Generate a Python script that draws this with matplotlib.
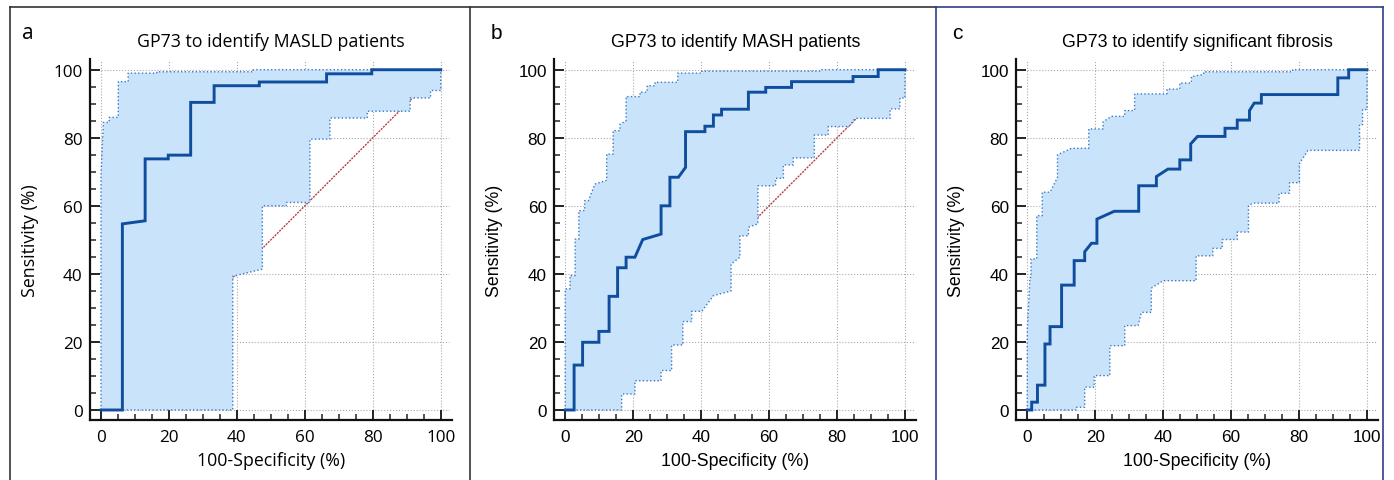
import matplotlib.pyplot as plt
from matplotlib.lines import Line2D
from matplotlib.ticker import MultipleLocator

W, H = 1394, 481

# Панель a: GP73 -> MASLD (ROC-кривая и границы 95% ДИ)
a_fpr = [0, 6.3, 6.3, 13.0, 13.0, 19.8, 19.8, 26.4, 26.4, 33.3, 33.3, 46.6, 46.6,
         66.4, 66.4, 79.7, 79.7, 100]
a_tpr = [0, 0, 54.7, 55.6, 73.8, 73.8, 74.9, 74.9, 90.4, 90.4, 95.3, 95.3, 96.4,
         96.4, 98.8, 98.8, 100, 100]
a_up_x = [0, 0, 0.7, 2.4, 2.4, 5.1, 5.1, 8.0, 8.0, 16.4, 16.4, 44.8, 44.8, 100]
a_up_y = [0, 68.9, 84.5, 84.5, 86.0, 86.0, 96.5, 96.5, 99.0, 99.0, 99.4, 99.4, 100, 100]
a_lo_x = [0, 38.8, 38.8, 47.5, 47.5, 54.5, 54.5, 61.5, 61.5, 67.4, 67.4, 78.4, 78.4,
          91.0, 91.0, 97.0, 97.0, 100, 100]
a_lo_y = [0, 0, 39.3, 41.4, 60.0, 60.0, 61.0, 61.0, 79.6, 79.6, 85.8, 85.8, 87.8,
          87.8, 91.7, 91.7, 93.9, 93.9, 100]

# Панель b: GP73 -> MASH
b_fpr = [0, 2.6, 2.6, 5.1, 5.1, 9.9, 9.9, 12.9, 12.9, 15.4, 15.4, 17.9, 17.9, 20.5,
         22.8, 28.2, 28.2, 30.8, 30.8, 33.3, 35.4, 35.4, 41.1, 41.1, 43.6, 43.6, 46.0,
         46.0, 53.9, 53.9, 59.0, 59.0, 66.6, 66.6, 84.7, 84.7, 92.1, 92.1, 100]
b_tpr = [0, 0, 13.2, 13.2, 19.9, 19.9, 23.1, 23.1, 33.4, 33.4, 41.8, 41.8, 44.9, 44.9,
         50.1, 51.7, 60.0, 60.0, 68.4, 68.4, 71.3, 81.8, 81.8, 83.4, 83.4, 86.7, 86.7,
         88.4, 88.4, 93.4, 93.4, 94.8, 94.8, 96.5, 96.5, 98.0, 98.0, 100, 100]
b_up_x = [0, 0, 1.4, 1.4, 2.9, 2.9, 4.0, 4.0, 5.7, 5.7, 6.8, 8.7, 12.2, 12.2, 14.1,
          14.1, 16.1, 16.1, 17.9, 17.9, 22.0, 22.0, 24.1, 24.1, 26.4, 26.4, 33.1, 33.1,
          40.2, 40.2, 75.5, 75.5, 100]
b_up_y = [0, 35.6, 35.6, 39.5, 39.5, 50.2, 50.2, 58.6, 58.6, 61.5, 61.5, 66.4, 67.5,
          75.2, 75.2, 82.1, 82.1, 84.0, 85.0, 92.1, 92.1, 93.4, 93.4, 95.3, 95.3, 96.3,
          96.3, 99.0, 99.0, 99.6, 99.6, 100, 100]
b_lo_x = [0, 16.6, 16.6, 20.5, 20.5, 28.2, 28.2, 31.3, 31.3, 34.6, 34.6, 37.2, 37.2,
          40.2, 43.6, 48.8, 48.8, 51.4, 51.4, 53.9, 53.9, 56.7, 56.7, 61.9, 61.9, 64.2,
          64.2, 67.1, 67.1, 73.3, 73.3, 77.4, 77.4, 83.5, 85.3, 95.6, 95.6, 98.5, 98.5,
          100, 100]
b_lo_y = [0, 0, 4.7, 4.7, 8.6, 8.6, 11.6, 11.6, 19.1, 19.1, 26.0, 26.0, 29.0, 29.0,
          33.6, 35.0, 42.9, 44.9, 51.2, 51.2, 53.7, 54.7, 65.9, 65.9, 68.1, 68.1, 72.0,
          72.0, 74.1, 74.1, 80.8, 80.8, 83.3, 83.3, 85.7, 85.7, 88.5, 88.5, 91.7, 91.7, 100]

# Панель c: GP73 -> значимый фиброз
c_fpr = [0, 1.3, 1.3, 3.0, 3.0, 5.2, 5.2, 6.7, 6.7, 10.1, 10.1, 13.8, 13.8, 16.9, 16.9,
         18.9, 20.5, 20.5, 25.6, 32.8, 32.8, 38.0, 38.0, 41.4, 44.9, 44.9, 48.1, 48.1,
         50.1, 58.2, 58.2, 61.8, 61.8, 65.4, 65.4, 66.8, 68.9, 68.9, 91.4, 91.4, 94.6,
         94.6, 100]
c_tpr = [0, 0, 2.3, 2.3, 7.3, 7.3, 19.4, 19.4, 24.5, 24.5, 36.7, 36.7, 43.9, 43.9, 46.5,
         49.0, 49.0, 56.1, 58.4, 58.4, 65.9, 65.9, 68.6, 70.8, 70.8, 73.5, 73.5, 78.2,
         80.4, 80.4, 82.8, 82.8, 85.2, 85.2, 88.0, 90.2, 90.2, 92.7, 92.7, 97.6, 97.6,
         100, 100]
c_up_x = [0, 0, 0.8, 1.1, 1.1, 2.8, 2.8, 4.4, 4.4, 6.7, 8.9, 8.9, 13.0, 18.1, 18.1,
          22.3, 22.3, 24.8, 28.7, 28.7, 31.6, 31.6, 41.1, 41.1, 44.9, 44.9, 48.3, 48.3,
          51.9, 51.9, 78.1, 78.1, 100]
c_up_y = [0, 23.3, 39.0, 39.0, 44.4, 44.4, 57.1, 57.1, 64.0, 64.0, 68.4, 75.0, 76.9,
          76.9, 82.6, 82.6, 84.7, 86.3, 86.3, 88.0, 88.0, 92.9, 92.9, 94.3, 94.3, 96.1,
          96.1, 98.0, 98.6, 99.4, 99.4, 100, 100]
c_lo_x = [0, 14.5, 14.5, 16.9, 16.9, 19.7, 19.7, 24.3, 24.3, 28.7, 28.7, 32.6, 33.6,
          36.5, 36.5, 40.0, 49.7, 49.7, 54.6, 54.6, 57.4, 57.4, 61.8, 61.8, 65.1, 65.1,
          66.4, 74.1, 74.1, 77.2, 77.2, 80.1, 80.1, 82.6, 97.8, 97.8, 98.7, 98.7, 100, 100]
c_lo_y = [0, 0, 0.8, 0.8, 6.7, 6.7, 10.1, 10.1, 18.9, 18.9, 24.8, 24.8, 28.7, 28.7,
          35.8, 38.0, 38.0, 45.3, 45.3, 47.5, 47.5, 50.1, 50.1, 52.3, 52.3, 60.0, 60.8,
          60.8, 63.7, 63.7, 66.8, 66.8, 72.4, 76.3, 76.3, 83.9, 83.9, 88.3, 88.3, 100]

titles = ['GP73 to identify MASLD patients', 'GP73 to identify MASH patients',
          'GP73 to identify significant fibrosis']
letters = ['a', 'b', 'c']
xlabel = '100-Specificity (%)'
ylabel = 'Sensitivity (%)'
ticks = [0, 20, 40, 60, 80, 100]

panels = [
    (a_fpr, a_tpr, a_up_x, a_up_y, a_lo_x, a_lo_y),
    (b_fpr, b_tpr, b_up_x, b_up_y, b_lo_x, b_lo_y),
    (c_fpr, c_tpr, c_up_x, c_up_y, c_lo_x, c_lo_y),
]

# расположение панелей в пикселях: левый край осей и положение буквы
ax_left = [90.1, 554.4, 1016.4]
letter_x = [27.5, 496, 957]
fonts = ['Open Sans', 'Liberation Sans', 'Liberation Sans']

main_color = '#0F4E9E'
band_color = '#3A78C8'
fill_color = '#C9E3FB'

fig = plt.figure(figsize=(W / 100, H / 100), dpi=100)

for i, (fpr, tpr, ux, uy, lx, ly) in enumerate(panels):
    fam = [fonts[i], 'DejaVu Sans']
    ax = fig.add_axes([ax_left[i] / W, (H - 421.2) / H, 361.5 / W, 361.7 / H])
    ax.set_xlim(-3.2, 103.2)
    ax.set_ylim(-3.0, 103.3)

    # сетка из точек
    for t in ticks:
        ax.plot([0, 102.5], [t, t], color='#AAAAAA', lw=0.8, ls=':', zorder=0)
        ax.plot([t, t], [0, 102.5], color='#AAAAAA', lw=0.8, ls=':', zorder=0)

    # диагональ случайного классификатора
    ax.plot([0, 100], [0, 100], color='#B8413F', lw=1.0, ls=(0, (1.5, 0.8)), zorder=1)

    # доверительная область
    poly_x = list(ux) + list(lx)[::-1]
    poly_y = list(uy) + list(ly)[::-1]
    ax.fill(poly_x, poly_y, color=fill_color, lw=0, zorder=2)
    ax.plot(ux, uy, color=band_color, lw=1.0, ls=':', zorder=3)
    ax.plot(lx, ly, color=band_color, lw=1.0, ls=':', zorder=3)

    # ROC-кривая
    ax.plot(fpr, tpr, color=main_color, lw=2.1, zorder=4, solid_joinstyle='miter')

    for s in ['top', 'right']:
        ax.spines[s].set_visible(False)
    for s in ['left', 'bottom']:
        ax.spines[s].set_linewidth(1.6)
        ax.spines[s].set_color('#111111')

    ax.set_xticks(ticks)
    ax.set_yticks(ticks)
    ax.xaxis.set_minor_locator(MultipleLocator(5))
    ax.yaxis.set_minor_locator(MultipleLocator(5))
    ax.tick_params(which='major', direction='in', length=7.5, width=1.4, color='#222222')
    ax.tick_params(which='minor', direction='in', length=4, width=1.1, color='#222222')
    ax.tick_params(axis='x', which='major', pad=6, labelsize=12.3)
    ax.tick_params(axis='y', which='major', pad=5.5, labelsize=12.3)
    for lab in ax.get_xticklabels() + ax.get_yticklabels():
        lab.set_family(fam)

    x0 = ax_left[i] + 10.9
    xc = x0 + 170
    fig.text(xc / W, 1 - 46.7 / H, titles[i], ha='center', va='baseline',
             fontsize=12.8, family=fam)
    fig.text(letter_x[i] / W, 1 - 39 / H, letters[i], ha='center', va='baseline',
             fontsize=15, family=fam)
    fig.text(xc / W, 1 - 466.5 / H, xlabel, ha='center', va='baseline',
             fontsize=12.8, family=fam)
    fig.text((ax_left[i] - 60) / W, 1 - 241 / H, ylabel, ha='center', va='center',
             rotation=90, fontsize=12.8, family=fam)

# рамки панелей
def fline(xs, ys, color):
    fig.add_artist(Line2D([x / W for x in xs], [1 - y / H for y in ys],
                          color=color, lw=1.2))

dark = '#333333'
blue = '#2E3D8F'
fline([10, 936], [8, 8], dark)
fline([10, 10], [8, 481], dark)
fline([470, 470], [8, 481], dark)
fline([936, 1383], [8, 8], blue)
fline([936, 936], [8, 481], blue)
fline([1383, 1383], [8, 481], blue)

fig.savefig('out.png', dpi=100)
